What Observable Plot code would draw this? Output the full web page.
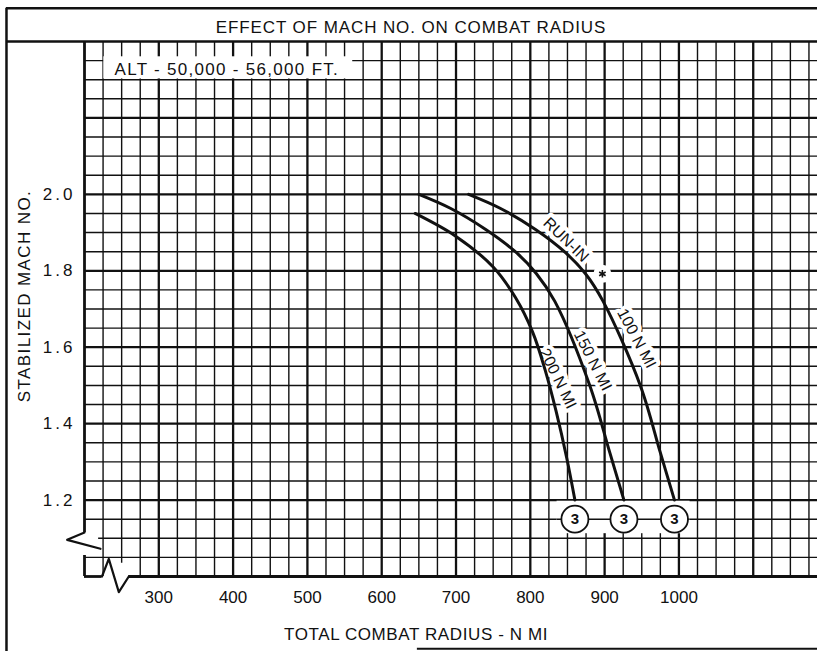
<!DOCTYPE html>
<html><head><meta charset="utf-8">
<script src="https://cdn.jsdelivr.net/npm/d3@7"></script>
<script src="https://cdn.jsdelivr.net/npm/@observablehq/plot@0.6"></script>
<style>body{margin:0;background:#fff} svg{display:block}</style>
</head><body><div id="chart"></div>
<script>
// ---- texts ----
const titleText = "EFFECT OF MACH NO. ON COMBAT RADIUS";
const altText = "ALT - 50,000 - 56,000 FT.";
const xTitle = "TOTAL COMBAT RADIUS - N MI";
const yTitle = "STABILIZED MACH NO.";
const xTicks = [300, 400, 500, 600, 700, 800, 900, 1000];
const yTicks = [1.2, 1.4, 1.6, 1.8, 2.0];

// ---- series (total combat radius, stabilized Mach) ----
const curve100x = [717, 760, 807, 847, 874, 898, 948, 975, 994];
const curve100y = [2.00, 1.963, 1.908, 1.848, 1.793, 1.72, 1.50, 1.324, 1.20];
const curve150x = [650, 693, 740, 781, 808, 833, 880, 907, 926];
const curve150y = [2.00, 1.963, 1.908, 1.848, 1.793, 1.72, 1.50, 1.324, 1.20];
const curve200x = [645, 700, 750, 780, 803, 820, 835, 849, 860];
const curve200y = [1.95, 1.89, 1.81, 1.73, 1.64, 1.54, 1.43, 1.31, 1.20];
const curveNames = ["100 N MI", "150 N MI", "200 N MI"];
const noteMark = ["3", "3", "3"];
const runInLabel = "RUN-IN";
const runInPoint = [897, 1.792];

// ---- annotation placement ----
const labelX = [943, 884, 837, 848];
const labelY = [1.623, 1.565, 1.518, 1.881];
const labelAngle = [62, 63, 64, 44];

const X0 = 200, X1 = 1186.5, Y0 = 1.0, Y1 = 2.4;

const series = [[curve100x, curve100y], [curve150x, curve150y], [curve200x, curve200y]];
const lineData = series.flatMap(([xs, ys], k) => xs.map((x, i) => ({x, y: ys[i], name: curveNames[k]})));
const ends = series.map(([xs, ys], k) => ({x: xs[xs.length - 1], note: noteMark[k]}));
const labels = [...curveNames, runInLabel].map((t, i) => ({text: t, x: labelX[i], y: labelY[i], a: labelAngle[i]}));

const vLines = d3.range(225, X1, 25).map(v => ({v, heavy: v % 100 === 0, y1: v === 250 ? 1.035 : Y0}));
const hLines = d3.range(21, 48).map(i => ({v: i * 0.05, heavy: i % 4 === 0, x1: i === 22 ? 219 : X0}));

const INK = "#111";
const plot = Plot.plot({
  width: 817, height: 651,
  marginLeft: 84, marginRight: 0, marginTop: 41, marginBottom: 75,
  x: {domain: [X0, X1], ticks: xTicks, tickSize: 0, tickPadding: 14, tickFormat: d => String(d), label: null},
  y: {domain: [Y0, Y1], ticks: yTicks, tickSize: 0, tickPadding: 9, tickFormat: d3.format(".1f"), label: null},
  style: {fontFamily: "'Liberation Sans', Arial, sans-serif", fontSize: "17px", background: "white", color: INK},
  marks: [
    // grid
    Plot.ruleY(hLines, {y: "v", x1: "x1", x2: X1, stroke: INK, strokeWidth: d => d.heavy ? 2.3 : 1.4}),
    Plot.ruleX(vLines, {x: "v", y1: "y1", y2: Y1, stroke: INK, strokeWidth: d => d.heavy ? 2.3 : 1.4}),
    // plot border with axis breaks
    Plot.ruleX([X0], {y1: 1.115, y2: Y1, stroke: INK, strokeWidth: 2.8}),
    Plot.ruleX([X0], {y1: Y0, y2: 1.055, stroke: INK, strokeWidth: 2.8}),
    Plot.ruleY([Y0], {x1: X0, x2: 223.5, stroke: INK, strokeWidth: 2.8}),
    Plot.ruleY([Y0], {x1: 259.6, x2: X1, stroke: INK, strokeWidth: 2.8}),
    Plot.line([[X0, 1.115], [176.7, 1.096], [221.5, 1.0725]], {x: d => d[0], y: d => d[1], stroke: INK, strokeWidth: 2.2}),
    Plot.line([[223.5, Y0], [232.7, 1.046], [246.2, 0.959], [259.6, Y0]], {x: d => d[0], y: d => d[1], stroke: INK, strokeWidth: 2.2}),
    // outer frame and title box
    Plot.ruleX([95], {y1: 0.80, y2: 2.487, stroke: INK, strokeWidth: 2.5}),
    Plot.ruleY([2.487], {x1: 95, x2: X1, stroke: INK, strokeWidth: 2.5}),
    Plot.ruleY([Y1], {x1: 95, x2: X1, stroke: INK, strokeWidth: 2.6}),
    Plot.ruleY([0.811], {x1: 648, x2: X1, stroke: INK, strokeWidth: 2}),
    // altitude note
    Plot.rect([0], {x1: 226, x2: 561, y1: 2.302, y2: 2.36, fill: "white"}),
    Plot.text([altText], {text: d => d, frameAnchor: "top-left", textAnchor: "start", lineAnchor: "middle", dx: 30, dy: 28, fontSize: 17, fill: INK}),
    // white band for the notes
    Plot.rect([0], {x1: 836, x2: 1015, y1: 1.112, y2: 1.197, fill: "white"}),
    Plot.ruleY([1.15], {x1: 836, x2: 1015, stroke: INK, strokeWidth: 1.4}),
    // curve labels (white backing hides the grid)
    Plot.text(labels, {x: "x", y: "y", text: "text", rotate: "a", fontSize: 16, fill: INK, stroke: "white", strokeWidth: 8, paintOrder: "stroke"}),
    Plot.dot([runInPoint], {x: d => d[0], y: d => d[1], r: 9, fill: "white"}),
    Plot.dot([runInPoint], {x: d => d[0], y: d => d[1], r: 3.5, symbol: "asterisk", stroke: INK, strokeWidth: 1.6}),
    // curves
    Plot.line(lineData, {x: "x", y: "y", z: "name", curve: "catmull-rom", stroke: INK, strokeWidth: 3}),
    // circled notes
    Plot.dot(ends, {x: "x", y: () => 1.15, r: 13.5, fill: "white", stroke: INK, strokeWidth: 1.8}),
    Plot.text(ends, {x: "x", y: () => 1.15, text: "note", fontSize: 15, fontWeight: "bold", fill: INK}),
    // titles
    Plot.text([titleText], {text: d => d, frameAnchor: "top", lineAnchor: "middle", dx: -40, dy: -14, fontSize: 17, fill: INK}),
    Plot.text([xTitle], {text: d => d, frameAnchor: "bottom", lineAnchor: "middle", dx: -35, dy: 58, fontSize: 17, fill: INK}),
    Plot.text([yTitle], {text: d => d, frameAnchor: "left", textAnchor: "middle", lineAnchor: "middle", rotate: -90, dx: -60, dy: -13, fontSize: 17, fill: INK})
  ]
});
document.getElementById("chart").appendChild(plot);

// letter spacing tweaks to mimic the lettering of the original
const spacing = new Map([[titleText, 0.9], [yTitle, 1.4], [xTitle, 0.6], [altText, 1.3]]);
d3.select(plot).selectAll("text").each(function () {
  const t = this.textContent;
  if (spacing.has(t)) this.setAttribute("letter-spacing", spacing.get(t));
  if (/^\d\.\d$/.test(t)) this.setAttribute("letter-spacing", 3);
});
</script>
</body></html>
